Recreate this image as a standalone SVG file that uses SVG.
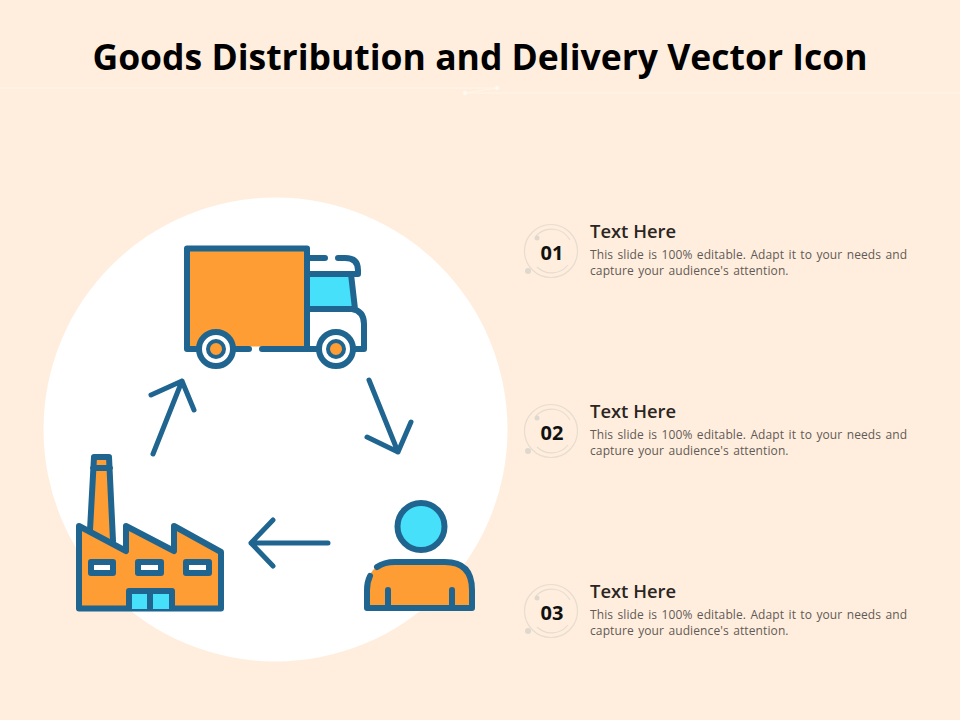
<svg xmlns="http://www.w3.org/2000/svg" width="960" height="720" viewBox="0 0 960 720">
<style>
.i{stroke:#1f6590;stroke-width:6;stroke-linecap:round;stroke-linejoin:round;fill:none}
.o{fill:#fd9d33}.c{fill:#46e0fb}.w{fill:#fff}
.t{font-family:"Open Sans","Noto Sans",sans-serif}
.h{font-size:18.400px;font-weight:600;fill:#2b2523}
.b{font-size:12px;fill:#5f5a57;letter-spacing:.11px;word-spacing:1.100px}
.n{font-size:20px;font-weight:700;fill:#111;text-anchor:middle}
.r{fill:none;stroke:#e6dcd0;stroke-width:1.2}
.d{fill:#dfd8ce}
</style>
<rect width="960" height="720" fill="#ffeedd"/>
<g id="decor-line" fill="none" stroke="#fff6ea" stroke-width="1">
<path d="M0 88H497M465 93L497 88M465 93H960"/>
<circle cx="465" cy="93" r="2" fill="#fffaf2"/><circle cx="497" cy="88" r="2" fill="#fffaf2"/>
</g>
<text id="title" x="480" y="70" text-anchor="middle" class="t" font-size="35.500" font-weight="700" fill="#000">Goods Distribution and Delivery Vector Icon</text>
<circle id="backdrop" cx="275.500" cy="429.500" r="232" fill="#fff"/>
<g id="truck">
<rect x="187" y="248.500" width="120" height="98" class="o"/>
<path d="M307 275H352L356 307H307Z" class="c"/>
<path class="i" d="M249 349H187V248.500H307V349H364V324Q364 311 352 309H307M307 274H358V270Q358 258 345 258H338M307 258H325M351 274L355 309M233 349H249M262 349H307"/>
<circle cx="216" cy="349" r="17" class="w"/><circle cx="216" cy="349" r="17" class="i"/>
<circle cx="216" cy="349" r="8" class="o"/><circle cx="216" cy="349" r="8" class="i" style="stroke-width:4"/>
<circle cx="336" cy="349" r="17" class="w"/><circle cx="336" cy="349" r="17" class="i"/>
<circle cx="336" cy="349" r="8" class="o"/><circle cx="336" cy="349" r="8" class="i" style="stroke-width:4"/>
</g>
<g id="factory">
<path d="M90 534L94 457H109L113 545Z" class="o"/>
<path class="i" d="M90 530L94 457H109L113 541M93 468H110"/>
<path d="M79 610V526L126 551V526L174 551V526L221 552V610Z" class="o"/>
<path class="i" d="M79 608.500V526L126 551V526L174 551V526L221 552V608.500Z"/>
<rect x="91" y="562" width="22" height="11" class="w"/><rect x="91" y="562" width="22" height="11" class="i"/>
<rect x="138" y="562" width="23" height="11" class="w"/><rect x="138" y="562" width="23" height="11" class="i"/>
<rect x="186" y="562" width="23" height="11" class="w"/><rect x="186" y="562" width="23" height="11" class="i"/>
<rect x="129" y="591" width="43" height="18" class="c"/>
<path class="i" d="M129 608V591H172V608M150 591V608"/>
</g>
<g id="person">
<circle cx="421" cy="526.500" r="23.500" class="c"/><circle cx="421" cy="526.500" r="23.500" class="i"/>
<path d="M367 608V590Q367 562 395 562H445Q472 562 472 590V608Z" class="o"/>
<path class="i" d="M377 567Q384 562 395 562H445Q472 562 472 590V608H367V590Q367 582 370 576M388 590V608M452 590V608"/>
</g>
<g id="connectors" class="i" style="stroke-width:5">
<path d="M153 454L182 381M151 395L182 381L194 410"/>
<path d="M369 380L398 452M367 437L398 452L411 422"/>
<path d="M328 543H251M273 520L251 543L273 566"/>
</g>
<g id="item-1">
<circle cx="551" cy="251" r="26.500" class="r"/><path d="M536 236A21 21 0 0 1 570 240M568 265A21 21 0 0 1 537 267" class="r"/>
<circle cx="537" cy="238" r="2.500" class="d"/><circle cx="528" cy="271" r="3" class="d"/>
<text x="552" y="260" class="t n">01</text>
<text x="590" y="238" class="t h">Text Here</text>
<text x="590" y="259" class="t b">This slide is 100% editable. Adapt it to your needs and</text>
<text x="590" y="275" class="t b">capture your audience's attention.</text>
</g>
<g id="item-2">
<circle cx="551" cy="431" r="26.500" class="r"/><path d="M536 416A21 21 0 0 1 570 420M568 445A21 21 0 0 1 537 447" class="r"/>
<circle cx="537" cy="418" r="2.500" class="d"/><circle cx="528" cy="451" r="3" class="d"/>
<text x="552" y="440" class="t n">02</text>
<text x="590" y="418" class="t h">Text Here</text>
<text x="590" y="439" class="t b">This slide is 100% editable. Adapt it to your needs and</text>
<text x="590" y="455" class="t b">capture your audience's attention.</text>
</g>
<g id="item-3">
<circle cx="551" cy="611" r="26.500" class="r"/><path d="M536 596A21 21 0 0 1 570 600M568 625A21 21 0 0 1 537 627" class="r"/>
<circle cx="537" cy="598" r="2.500" class="d"/><circle cx="528" cy="631" r="3" class="d"/>
<text x="552" y="620" class="t n">03</text>
<text x="590" y="598" class="t h">Text Here</text>
<text x="590" y="619" class="t b">This slide is 100% editable. Adapt it to your needs and</text>
<text x="590" y="635" class="t b">capture your audience's attention.</text>
</g>
</svg>
